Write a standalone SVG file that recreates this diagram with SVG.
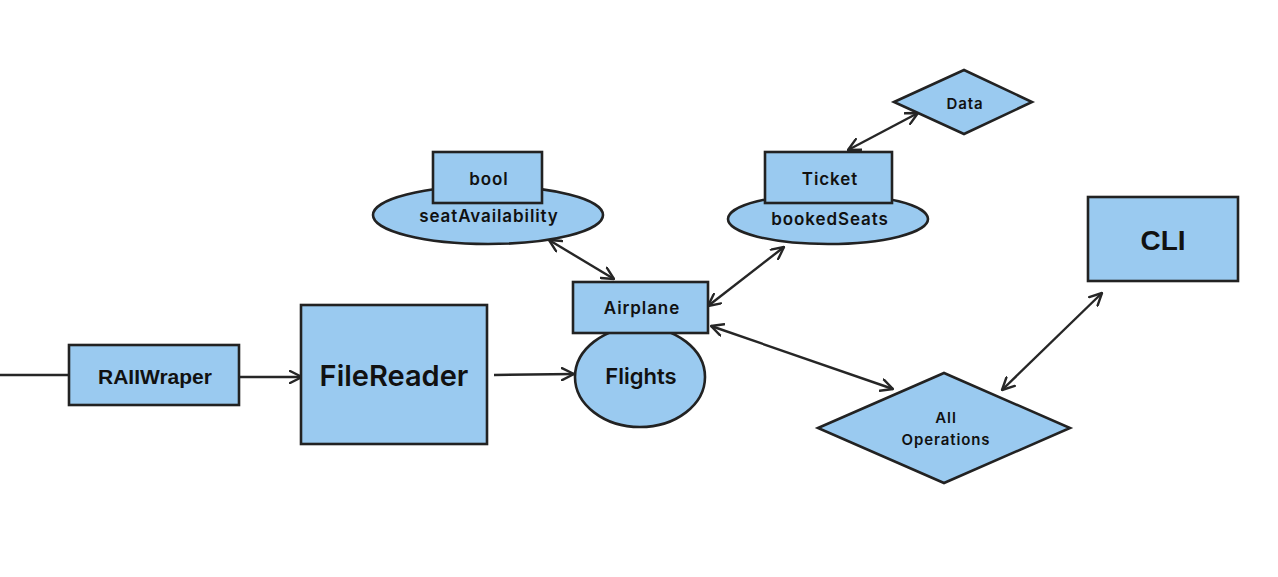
<svg xmlns="http://www.w3.org/2000/svg" width="1278" height="577" viewBox="0 0 1278 577">
<style>
.n{fill:#9ACAF0;stroke:#222;stroke-width:2.6}
.c{fill:none;stroke:#262626;stroke-width:2.4}
.t{font-family:Inter,"Open Sans",sans-serif;font-weight:600;fill:#111;text-anchor:middle;dominant-baseline:central}
.s{letter-spacing:0.9px}
.a{font-family:"Liberation Sans",Arial,sans-serif;font-weight:700;fill:#111;text-anchor:middle;dominant-baseline:central}
</style>
<defs>
<marker id="ah" viewBox="0 0 14 14" refX="13" refY="7" markerWidth="14" markerHeight="14" markerUnits="userSpaceOnUse" orient="auto-start-reverse">
<path d="M1,1 L13,7 L1,13" fill="none" stroke="#262626" stroke-width="2.4" stroke-linecap="round" stroke-linejoin="round"/>
</marker>
</defs>
<rect width="1278" height="577" fill="#fff"/>
<g id="connectors">
<line class="c" x1="0" y1="375" x2="69" y2="375"/>
<line class="c" x1="240" y1="377" x2="302" y2="377" marker-end="url(#ah)"/>
<line class="c" x1="494" y1="375" x2="574" y2="374" marker-end="url(#ah)"/>
<line class="c" x1="549" y1="240" x2="614" y2="279" marker-start="url(#ah)" marker-end="url(#ah)"/>
<line class="c" x1="708" y1="306" x2="784" y2="247" marker-start="url(#ah)" marker-end="url(#ah)"/>
<line class="c" x1="848" y1="150" x2="918" y2="113" marker-start="url(#ah)" marker-end="url(#ah)"/>
<line class="c" x1="711" y1="326" x2="893" y2="389" marker-start="url(#ah)" marker-end="url(#ah)"/>
<line class="c" x1="1102" y1="293" x2="1002" y2="390" marker-start="url(#ah)" marker-end="url(#ah)"/>
</g>
<g id="raiiwraper">
<rect class="n" x="69" y="345" width="170" height="60"/>
<text class="a" x="155" y="376" font-size="21">RAIIWraper</text>
</g>
<g id="filereader">
<rect class="n" x="301" y="305" width="186" height="139"/>
<text class="t" x="394" y="375" font-size="29">FileReader</text>
</g>
<g id="flights">
<ellipse class="n" cx="640" cy="377" rx="65" ry="50"/>
<text class="t" x="641" y="376" font-size="22">Flights</text>
</g>
<g id="airplane">
<rect class="n" x="573" y="282" width="135" height="51"/>
<text class="t s" x="642" y="308" font-size="17">Airplane</text>
</g>
<g id="seatAvailability">
<ellipse class="n" cx="488" cy="215" rx="115" ry="29"/>
<text class="t s" x="489" y="216" font-size="17">seatAvailability</text>
</g>
<g id="bool">
<rect class="n" x="433" y="152" width="109" height="51"/>
<text class="t s" x="489" y="179" font-size="17">bool</text>
</g>
<g id="bookedSeats">
<ellipse class="n" cx="828" cy="219" rx="100" ry="25"/>
<text class="t s" x="830" y="219" font-size="17">bookedSeats</text>
</g>
<g id="ticket">
<rect class="n" x="765" y="152" width="127" height="51"/>
<text class="t s" x="830" y="179" font-size="17">Ticket</text>
</g>
<g id="data">
<polygon class="n" points="894,102 964,70 1032,102 964,134"/>
<text class="t s" x="965" y="103" font-size="15">Data</text>
</g>
<g id="allOperations">
<polygon class="n" points="818,428 944,373 1070,428 944,483"/>
<text class="t s" x="946" y="417" font-size="15">All</text>
<text class="t s" x="946" y="439" font-size="15">Operations</text>
</g>
<g id="cli">
<rect class="n" x="1088" y="197" width="150" height="84"/>
<text class="a" x="1163" y="240" font-size="28">CLI</text>
</g>
</svg>
